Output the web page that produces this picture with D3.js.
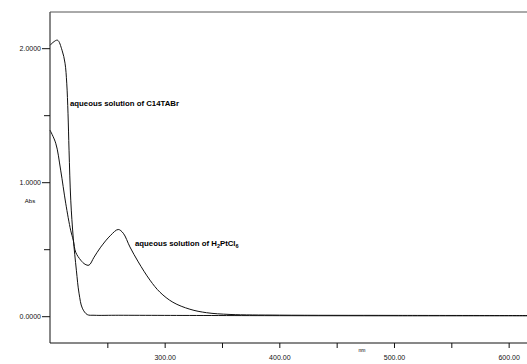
<!DOCTYPE html>
<html>
<head>
<meta charset="utf-8">
<script src="https://cdnjs.cloudflare.com/ajax/libs/d3/7.8.5/d3.min.js"></script>
<style>
  body { margin: 0; background: #fff; }
  svg { display: block; font-family: "Liberation Sans", Arial, sans-serif; }
  .tick text { font-size: 7px; fill: #111; }
  .label { font-size: 7.8px; fill: #000; font-weight: bold; }
</style>
</head>
<body>
<script>
// spectra (nm, Abs)

var c14Wave = [200, 206.4, 210.5, 213.1, 214.6, 215.7, 216.6, 218.1, 220.3, 223, 225.3, 228.2, 232.5, 238.4, 260, 300, 400, 500, 620];
var c14Abs  = [2.022, 2.06, 1.985, 1.888, 1.739, 1.515, 1.239, 0.866, 0.582, 0.343, 0.172, 0.06, 0.012, 0.007, 0.007, 0.006, 0.004, 0.003, 0.003];

var ptWave = [200, 205, 209.3, 213.7, 218, 220.3, 222.4, 226.8, 230.5, 234, 238.4, 244.2, 252.9, 259.5, 263.9, 269.7, 277, 287.2, 295.9, 307.2, 322, 336.6, 357, 400, 500, 620];
var ptAbs  = [1.388, 1.291, 1.09, 0.843, 0.642, 0.567, 0.478, 0.418, 0.388, 0.381, 0.44, 0.515, 0.604, 0.647, 0.619, 0.517, 0.405, 0.269, 0.179, 0.104, 0.052, 0.026, 0.013, 0.008, 0.006, 0.005];

var xTicks = [250, 300, 350, 400, 450, 500, 550, 600];
var xLabels = [300, 400, 500, 600];
var yTicks = [0, 0.5, 1, 1.5, 2];
var yLabels = [0, 1, 2];

var width = 527,
    height = 364,
    padLeft = 50,
    padTop = 12,
    padBottom = 343;

var svg = d3.select("body").append("svg")
    .attr("width", width)
    .attr("height", height);

// scales: plot area runs past the right edge of the scan
var xScale = d3.scaleLinear().domain([200, 616]).range([padLeft, 527]);
var yScale = d3.scaleLinear().domain([-0.2, 2.27]).range([padBottom, padTop]);

// x axis, ticks outward, labels only every 100 nm
var xAxis = d3.axisBottom(xScale)
    .tickValues(xTicks)
    .tickSize(5)
    .tickFormat(function(d) { return xLabels.indexOf(d) >= 0 ? d.toFixed(2) : ""; });

var gx = svg.append("g")
    .attr("transform", "translate(0," + padBottom + ")")
    .call(xAxis);
gx.select(".domain").attr("d", "M" + padLeft + ",0H" + width);
gx.selectAll(".tick text").attr("dy", "1.3em");

// y axis, long ticks at labelled values
var yAxis = d3.axisLeft(yScale)
    .tickValues(yTicks)
    .tickSize(6)
    .tickPadding(2)
    .tickFormat(function(d) { return yLabels.indexOf(d) >= 0 ? d.toFixed(4) : ""; });

var gy = svg.append("g")
    .attr("transform", "translate(" + padLeft + ",0)")
    .call(yAxis);
gy.select(".domain").attr("d", "M0," + padTop + "V" + padBottom);
gy.selectAll(".tick line").attr("x2", function(d) { return yLabels.indexOf(d) >= 0 ? -8 : -6; });
gy.selectAll(".tick text").attr("x", -9);

svg.selectAll(".domain, .tick line").attr("stroke", "#111");

// top frame line
svg.append("line")
    .attr("x1", padLeft).attr("x2", width)
    .attr("y1", padTop).attr("y2", padTop)
    .attr("stroke", "#555");

// axis titles
svg.append("text")
    .attr("x", 30).attr("y", 203)
    .style("font-size", "6px")
    .style("text-anchor", "middle")
    .text("Abs");

svg.append("text")
    .attr("x", 362).attr("y", 352)
    .style("font-size", "5px")
    .style("text-anchor", "middle")
    .text("nm");

// curves
var line = d3.line()
    .x(function(d) { return xScale(d[0]); })
    .y(function(d) { return yScale(d[1]); })
    .curve(d3.curveCatmullRom.alpha(0.5));

svg.append("path")
    .datum(d3.zip(c14Wave, c14Abs))
    .attr("d", line)
    .attr("fill", "none")
    .attr("stroke", "#111")
    .attr("stroke-width", 1);

svg.append("path")
    .datum(d3.zip(ptWave, ptAbs))
    .attr("d", line)
    .attr("fill", "none")
    .attr("stroke", "#111")
    .attr("stroke-width", 1);

// annotations
svg.append("text")
    .attr("class", "label")
    .attr("x", 70).attr("y", 106)
    .text("aqueous solution of C14TABr");

var pt = svg.append("text")
    .attr("class", "label")
    .attr("x", 135).attr("y", 246)
    .text("aqueous solution of H");
pt.append("tspan").attr("dy", 2).style("font-size", "5.5px").text("2");
pt.append("tspan").attr("dy", -2).text("PtCl");
pt.append("tspan").attr("dy", 2).style("font-size", "5.5px").text("6");
</script>
</body>
</html>
